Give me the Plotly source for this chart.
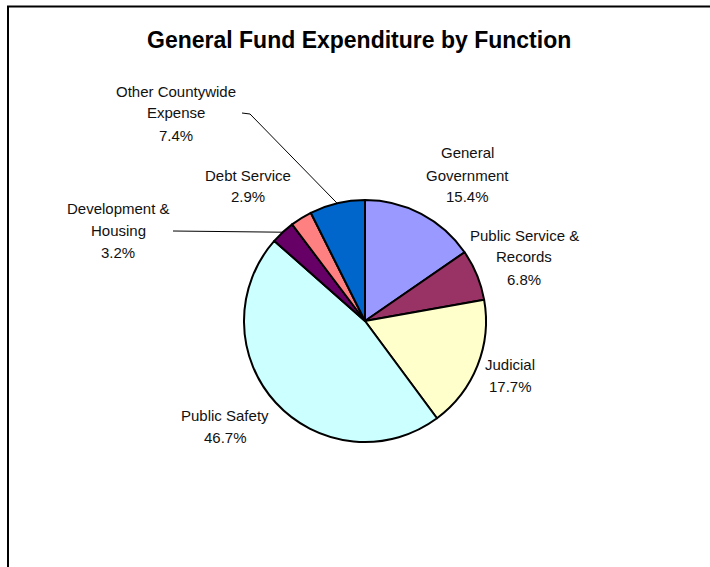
import math
import plotly.graph_objects as go

# ---- data ----
categories = ["General Government", "Public Service & Records", "Judicial",
              "Public Safety", "Development & Housing", "Debt Service",
              "Other Countywide Expense"]
values = [15.4, 6.8, 17.7, 46.7, 3.2, 2.9, 7.4]
label_lines = [["General", "Government"], ["Public Service &", "Records"], ["Judicial"],
               ["Public Safety"], ["Development &", "Housing"], ["Debt Service"],
               ["Other Countywide", "Expense"]]
pct_text = ["15.4%", "6.8%", "17.7%", "46.7%", "3.2%", "2.9%", "7.4%"]

colors = ["#9999FF", "#993366", "#FFFFCC", "#CCFFFF", "#660066", "#FF8080", "#0066CC"]

W, H = 710, 567
CX, CY, R = 365, 321, 121  # pie centre / radius in px

# label block centre (x, first-line y) in px
label_pos = [(467, 153), (524, 235), (510, 364), (225, 415), (118, 208), (248, 175), (176, 91)]
LINE_H = 22
leader = {6: [(242, 113), (250, 114)], 4: [(173, 231)]}


def px(x):
    return x / W


def py(y):
    return 1 - y / H


fig = go.Figure()
fig.add_trace(go.Pie(
    labels=categories, values=values, sort=False, direction="clockwise", rotation=0,
    marker=dict(colors=colors, line=dict(color="#000000", width=2)),
    textinfo="none", hoverinfo="label+percent", showlegend=False,
    domain=dict(x=[px(CX - R), px(CX + R)], y=[py(CY + R), py(CY - R)]),
))

font = dict(family="Liberation Sans, Arial, sans-serif", size=15, color="#111111")
annotations = []
for i, (lines, pct) in enumerate(zip(label_lines, pct_text)):
    x0, y0 = label_pos[i]
    for k, t in enumerate(lines + [pct]):
        annotations.append(dict(x=px(x0), y=py(y0 + k * LINE_H), xref="paper", yref="paper",
                                text=t, showarrow=False, font=font,
                                xanchor="center", yanchor="middle"))

annotations.append(dict(x=px(359), y=py(40), xref="paper", yref="paper",
                        text="<b>General Fund Expenditure by Function</b>", showarrow=False,
                        font=dict(family="Liberation Sans, Arial, sans-serif", size=23, color="#000000"),
                        xanchor="center", yanchor="middle"))

shapes = []
# frame
shapes.append(dict(type="rect", xref="paper", yref="paper",
                   x0=px(8), x1=px(W + 20), y0=py(H + 20), y1=py(6.5),
                   line=dict(color="#000000", width=2), fillcolor="rgba(0,0,0,0)", layer="below"))

# leader lines from label to slice mid-angle on the pie edge
total = sum(values)
cum = 0
mids = []
for v in values:
    mids.append((cum + v / 2) / total * 2 * math.pi)
    cum += v
for idx, pts in leader.items():
    ex = CX + R * math.sin(mids[idx])
    ey = CY - R * math.cos(mids[idx])
    path_pts = pts + [(ex, ey)]
    for (a, b), (c, d) in zip(path_pts[:-1], path_pts[1:]):
        shapes.append(dict(type="line", xref="paper", yref="paper",
                           x0=px(a), y0=py(b), x1=px(c), y1=py(d),
                           line=dict(color="#000000", width=1)))

fig.update_layout(
    width=W, height=H, margin=dict(l=0, r=0, t=0, b=0),
    paper_bgcolor="#FFFFFF", plot_bgcolor="#FFFFFF",
    annotations=annotations, shapes=shapes,
)

fig.write_html("out.html", config={"displayModeBar": False},
               post_script="document.body.style.margin='0';")
